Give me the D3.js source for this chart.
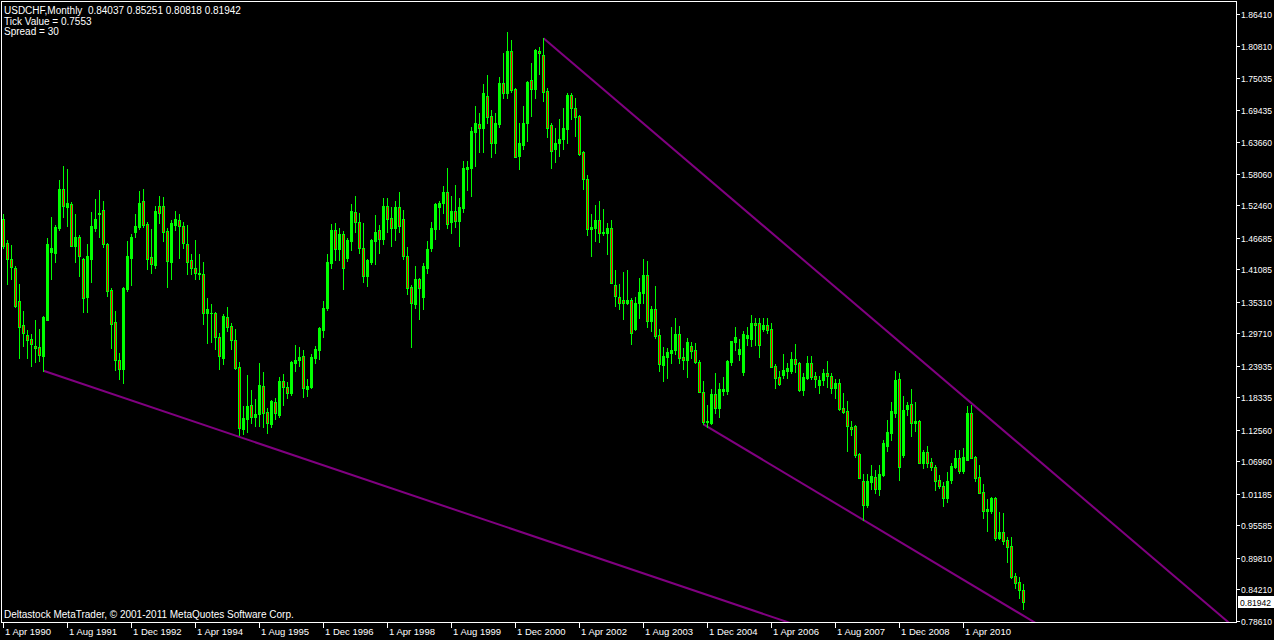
<!DOCTYPE html>
<html><head><meta charset="utf-8">
<script src="https://cdn.jsdelivr.net/npm/d3@7/dist/d3.min.js"></script>
<style>
html,body{margin:0;padding:0;background:#000;}
svg{display:block;}
text{font-family:"Liberation Sans",Arial,sans-serif;fill:#fff;white-space:pre;}
</style></head><body>
<svg id="chart" width="1274" height="640"></svg>
<script>
// ---- DATA (USDCHF monthly, Apr 1990 .. Jul 2011) ----
const startMonth = "1990-04";
const open = [1.4995,1.4569,1.4284,1.4125,1.3549,1.3118,1.2940,1.2864,1.2745,1.2721,1.2572,1.3206,1.4419,1.4402,1.4840,1.5528,1.5218,1.5261,1.4521,1.4675,1.4290,1.3615,1.4295,1.4840,1.5089,1.5160,1.4556,1.3739,1.3165,1.2496,1.2336,1.3762,1.4313,1.4775,1.4863,1.5320,1.4911,1.4331,1.4183,1.5236,1.5231,1.4787,1.4242,1.4894,1.4983,1.4876,1.4556,1.4272,1.4125,1.4036,1.4024,1.3325,1.3325,1.3325,1.2899,1.2537,1.3254,1.3100,1.2851,1.2366,1.1265,1.1443,1.1697,1.1489,1.1532,1.2034,1.1567,1.1354,1.1745,1.1519,1.2123,1.2011,1.1915,1.2437,1.2501,1.2567,1.1986,1.2011,1.2537,1.2674,1.3029,1.3425,1.4224,1.4805,1.4462,1.4734,1.4308,1.4615,1.5119,1.4942,1.4480,1.3993,1.4242,1.4615,1.4805,1.4645,1.5231,1.5013,1.4846,1.5208,1.4999,1.4343,1.3787,1.3486,1.3935,1.3610,1.4135,1.4491,1.4817,1.5218,1.5279,1.5474,1.4952,1.5148,1.4965,1.5201,1.5888,1.5911,1.6551,1.6687,1.6622,1.7185,1.6829,1.6345,1.6687,1.7410,1.7243,1.7984,1.7304,1.6119,1.6314,1.6700,1.7469,1.7309,1.7984,1.7913,1.7274,1.6670,1.6243,1.6345,1.6421,1.6599,1.7202,1.6966,1.6829,1.6195,1.5711,1.4817,1.4846,1.4983,1.4757,1.4757,1.4835,1.3828,1.3620,1.3562,1.3514,1.3562,1.3047,1.3503,1.3691,1.4005,1.3189,1.3402,1.2940,1.2407,1.2554,1.2625,1.2665,1.2958,1.2544,1.2496,1.2745,1.2674,1.2455,1.1922,1.1401,1.1372,1.1887,1.1638,1.1951,1.1951,1.2466,1.2821,1.2597,1.2288,1.2882,1.2869,1.3146,1.3146,1.3047,1.3118,1.3041,1.2390,1.2189,1.2230,1.2301,1.2301,1.2509,1.2437,1.1963,1.2182,1.2437,1.2212,1.2052,1.2141,1.2260,1.2212,1.2004,1.2082,1.1638,1.1591,1.1311,1.1329,1.0821,1.0347,0.9921,1.0335,1.0423,1.0205,1.0454,1.0974,1.1205,1.1550,1.2159,1.0809,1.1626,1.1715,1.1382,1.1413,1.0672,1.0868,1.0690,1.0590,1.0365,1.0258,1.0050,1.0365,1.0601,1.0750,1.0525,1.0720,1.1550,1.0768,1.0413,1.0147,0.9820,0.9820,1.0040,0.9340,0.9436,0.9299,0.9193,0.8660,0.8548,0.84037];
const high = [1.5089,1.4627,1.4538,1.4165,1.3846,1.3366,1.3029,1.2958,1.3206,1.3047,1.3283,1.4663,1.5036,1.4894,1.5693,1.5941,1.5883,1.5307,1.5089,1.4716,1.4313,1.4556,1.5130,1.5355,1.5515,1.5320,1.4569,1.3780,1.3366,1.2615,1.3798,1.4614,1.4734,1.5089,1.5497,1.5533,1.4952,1.4823,1.5231,1.5409,1.5396,1.4835,1.4983,1.5142,1.5089,1.4942,1.4894,1.4379,1.4627,1.4373,1.4231,1.3597,1.3489,1.3354,1.2982,1.3308,1.3437,1.3148,1.3047,1.2455,1.1678,1.2230,1.1963,1.1804,1.2443,1.2283,1.1649,1.1786,1.1816,1.2189,1.2248,1.2100,1.2484,1.2769,1.2727,1.2674,1.2158,1.2597,1.2745,1.3079,1.3544,1.4379,1.4911,1.4934,1.4840,1.4792,1.4658,1.5267,1.5409,1.5112,1.4934,1.4290,1.4645,1.5071,1.4894,1.5379,1.5379,1.5219,1.5320,1.5480,1.5160,1.4498,1.3829,1.4165,1.3958,1.4224,1.4610,1.4942,1.5290,1.5320,1.5586,1.5911,1.5409,1.5604,1.5368,1.6030,1.6030,1.6629,1.7007,1.6877,1.7398,1.7558,1.6936,1.6877,1.7517,1.7954,1.8316,1.8179,1.7321,1.6711,1.7007,1.7457,1.7765,1.8019,1.8060,1.8209,1.7322,1.6711,1.6611,1.6776,1.6966,1.7243,1.7243,1.7144,1.6847,1.6213,1.5782,1.5089,1.5249,1.5320,1.5178,1.4934,1.4983,1.4094,1.3840,1.4063,1.4094,1.3603,1.3610,1.3947,1.4290,1.4254,1.3455,1.3810,1.3047,1.2732,1.2714,1.3087,1.3247,1.3100,1.2714,1.2881,1.2821,1.2803,1.2496,1.2123,1.1697,1.1976,1.2260,1.2082,1.2200,1.2496,1.2833,1.3076,1.2864,1.3011,1.3076,1.3295,1.3237,1.3237,1.3237,1.3237,1.3147,1.2420,1.2306,1.2603,1.2448,1.2633,1.2781,1.2466,1.2270,1.2572,1.2572,1.2278,1.2212,1.2336,1.2478,1.2260,1.2159,1.2159,1.1915,1.1768,1.1418,1.1342,1.0850,1.0472,1.0472,1.0631,1.0542,1.0631,1.1075,1.1431,1.1745,1.2301,1.2270,1.1862,1.1756,1.1981,1.1745,1.1431,1.0898,1.0969,1.0750,1.0631,1.0454,1.0334,1.0501,1.0661,1.0898,1.0898,1.0939,1.1678,1.1697,1.0791,1.0631,1.0288,1.0028,1.0069,1.0069,0.9791,0.9773,0.9347,0.9347,0.8719,0.8648,0.85251];
const low = [1.4485,1.3846,1.3935,1.3443,1.2537,1.2750,1.2537,1.2395,1.2466,1.2478,1.2306,1.3200,1.3935,1.4242,1.4805,1.5041,1.4881,1.4521,1.4242,1.3993,1.3354,1.3354,1.3887,1.4792,1.4686,1.4508,1.3633,1.2714,1.2318,1.2159,1.2093,1.3727,1.3828,1.4675,1.4817,1.4863,1.4112,1.4047,1.4125,1.4934,1.4615,1.3798,1.3935,1.4805,1.4313,1.4491,1.4024,1.4024,1.3935,1.3935,1.3135,1.2802,1.2809,1.2686,1.2336,1.2420,1.3017,1.2686,1.2336,1.1163,1.1177,1.1222,1.1371,1.1329,1.1319,1.1307,1.1205,1.1301,1.1453,1.1479,1.1697,1.1826,1.1875,1.2306,1.2394,1.1844,1.1862,1.1994,1.2449,1.2514,1.2903,1.3385,1.4125,1.4272,1.4272,1.3757,1.4254,1.4450,1.4775,1.4402,1.3887,1.3816,1.4201,1.4201,1.4402,1.4556,1.4764,1.4526,1.4627,1.4764,1.4284,1.3667,1.2733,1.3424,1.3220,1.3397,1.4036,1.4437,1.4645,1.4823,1.5112,1.4846,1.4757,1.4864,1.4526,1.5130,1.5515,1.5409,1.5947,1.6195,1.6195,1.6700,1.6106,1.6178,1.6640,1.7154,1.7154,1.7261,1.6096,1.5888,1.6243,1.6391,1.6835,1.7154,1.7575,1.7096,1.6451,1.5912,1.6015,1.6119,1.6243,1.6354,1.6776,1.6480,1.6137,1.5533,1.4716,1.4348,1.4615,1.4597,1.4716,1.4379,1.3857,1.3460,1.3402,1.3224,1.3485,1.2775,1.3029,1.3250,1.3503,1.3087,1.3011,1.2881,1.2306,1.2129,1.2182,1.2437,1.2597,1.2437,1.2336,1.2200,1.2537,1.2437,1.1922,1.1354,1.1311,1.1354,1.1549,1.1478,1.1874,1.1892,1.2407,1.2674,1.2496,1.2230,1.2763,1.2750,1.2762,1.2555,1.3017,1.2970,1.2378,1.2004,1.2052,1.2182,1.2182,1.2260,1.2278,1.1945,1.1874,1.2159,1.2159,1.2022,1.1905,1.2052,1.2022,1.1915,1.1827,1.1608,1.1549,1.0880,1.1164,1.0779,1.0405,0.9654,0.9891,1.0205,1.0129,1.0098,1.0436,1.0885,1.1075,1.1478,1.0365,1.0779,1.1519,1.1146,1.1235,1.0661,1.0583,1.0601,1.0542,1.0187,1.0228,0.9909,0.9969,1.0317,1.0573,1.0484,1.0484,1.0720,1.0750,1.0347,1.0129,0.9695,0.9464,0.9773,0.9299,0.9317,0.9223,0.8914,0.8630,0.8442,0.8275,0.80818];
const close = [1.4521,1.4284,1.4142,1.3455,1.3087,1.2970,1.2851,1.2775,1.2714,1.2585,1.3265,1.4556,1.4480,1.4863,1.5528,1.5236,1.5279,1.4526,1.4675,1.4348,1.3602,1.4343,1.4876,1.4995,1.5112,1.4556,1.3727,1.3135,1.2496,1.2336,1.3780,1.4343,1.4675,1.4876,1.5290,1.4894,1.4290,1.4201,1.5142,1.5112,1.4775,1.4260,1.4934,1.4995,1.4881,1.4569,1.4242,1.4135,1.4036,1.4024,1.3336,1.3397,1.3337,1.2899,1.2572,1.3278,1.3087,1.2851,1.2359,1.1283,1.1460,1.1679,1.1489,1.1537,1.2056,1.1549,1.1372,1.1768,1.1549,1.2123,1.2011,1.1905,1.2466,1.2496,1.2549,1.1994,1.2034,1.2544,1.2686,1.3058,1.3414,1.4231,1.4805,1.4467,1.4734,1.4135,1.4627,1.5142,1.4942,1.4491,1.3993,1.4272,1.4627,1.4764,1.4645,1.5231,1.5000,1.4846,1.5208,1.4881,1.4348,1.3780,1.3514,1.3935,1.3769,1.4165,1.4467,1.4835,1.5267,1.5290,1.5474,1.4906,1.5148,1.4965,1.5208,1.5911,1.5929,1.6563,1.6700,1.6622,1.7233,1.6817,1.6345,1.6700,1.7410,1.7243,1.7984,1.7291,1.6106,1.6345,1.6700,1.7439,1.7309,1.8002,1.7943,1.7261,1.6622,1.6213,1.6345,1.6421,1.6622,1.7202,1.6966,1.6817,1.6155,1.5711,1.4817,1.4863,1.4983,1.4757,1.4769,1.4835,1.3869,1.3638,1.3514,1.3514,1.3562,1.2981,1.3503,1.3699,1.4005,1.3194,1.3402,1.2922,1.2419,1.2567,1.2644,1.2674,1.2958,1.2537,1.2496,1.2821,1.2661,1.2466,1.1933,1.1401,1.1413,1.1887,1.1638,1.1976,1.1981,1.2478,1.2834,1.2899,1.2692,1.2958,1.2940,1.3146,1.3118,1.2762,1.3118,1.3029,1.2378,1.2182,1.2070,1.2319,1.2349,1.2509,1.2425,1.1963,1.2189,1.2437,1.2200,1.2154,1.2141,1.2260,1.2212,1.2004,1.2082,1.1626,1.1578,1.1329,1.1265,1.0809,1.0405,0.9921,1.0347,1.0436,1.0205,1.0472,1.1017,1.1212,1.1590,1.2141,1.0601,1.1608,1.1697,1.1382,1.1413,1.0672,1.0868,1.0672,1.0590,1.0347,1.0264,1.0050,1.0347,1.0614,1.0750,1.0525,1.0768,1.1550,1.0761,1.0405,1.0140,0.9820,0.9850,1.0040,0.9340,0.9436,0.9287,0.9180,0.8648,0.8541,0.8413,0.81942];

const priceTicks = ["1.86410","1.80810","1.75035","1.69435","1.63660","1.58060","1.52460","1.46685","1.41085","1.35310","1.29710","1.23935","1.18335","1.12560","1.06960","1.01185","0.95585","0.89810","0.84210","0.78610"];
const dateTickMonths = ["1990-04","1991-08","1992-12","1994-04","1995-08","1996-12","1998-04","1999-08","2000-12","2002-04","2003-08","2004-12","2006-04","2007-08","2008-12","2010-04"];
const dateTickLabels = ["1 Apr 1990","1 Aug 1991","1 Dec 1992","1 Apr 1994","1 Aug 1995","1 Dec 1996","1 Apr 1998","1 Aug 1999","1 Dec 2000","1 Apr 2002","1 Aug 2003","1 Dec 2004","1 Apr 2006","1 Aug 2007","1 Dec 2008","1 Apr 2010"];
// trend lines: two anchor points each [month, price], drawn as rays to the right
const trendLines = [
  [["1991-02",1.2306],["1995-04",1.1106]],
  [["2001-07",1.8209],["2010-05",1.1789]],
  [["2004-11",1.1354],["2008-03",0.9654]]
];
const headerLines = ["USDCHF,Monthly  0.84037 0.85251 0.80818 0.81942","Tick Value = 0.7553","Spread = 30"];
const footerText = "Deltastock MetaTrader, \u00a9 2001-2011 MetaQuotes Software Corp.";
const lastPrice = "0.81942";

// ---- LAYOUT ----
const W = 1274, H = 640;
const plot = {left:1, right:1236, top:1, bottom:622};
const svg = d3.select("#chart");
svg.append("rect").attr("width",W).attr("height",H).attr("fill","#000");

const fmtKey = d3.timeFormat("%Y-%m");
const parseKey = d3.timeParse("%Y-%m");
const months = d3.timeMonth.range(parseKey(startMonth), d3.timeMonth.offset(parseKey(startMonth), open.length)).map(fmtKey);
const idx = new Map(months.map((m,i)=>[m,i]));

const x = d3.scaleLinear().domain([0, months.length-1]).range([3, 3 + 4*(months.length-1)]);
const y = d3.scaleLinear().domain([0.78610, 1.86410]).range([621, 14]);

const candles = months.map((m,i)=>({m, i, o:open[i], h:high[i], l:low[i], c:close[i]}));

svg.append("clipPath").attr("id","plotclip").append("rect")
  .attr("x",plot.left+1).attr("y",plot.top+1).attr("width",plot.right-plot.left-1).attr("height",plot.bottom-plot.top-1);

// trend lines
const tl = svg.append("g").attr("clip-path","url(#plotclip)");
trendLines.forEach(([a,b])=>{
  const i1 = idx.get(a[0]), i2 = idx.get(b[0]);
  const slope = (b[1]-a[1])/(i2-i1);
  const iEnd = i1 + 200;
  tl.append("line")
    .attr("x1", x(i1)+0.5).attr("y1", y(a[1]))
    .attr("x2", x(iEnd)+0.5).attr("y2", y(a[1]+slope*(iEnd-i1)))
    .attr("stroke","#800080").attr("stroke-width",2);
});

const g = svg.append("g").attr("clip-path","url(#plotclip)").attr("shape-rendering","crispEdges");
// wicks
g.selectAll("rect.wick").data(candles).join("rect").attr("class","wick")
  .attr("x", d=>x(d.i)).attr("width",1)
  .attr("y", d=>Math.round(y(d.h))).attr("height", d=>Math.max(1, Math.round(y(d.l))-Math.round(y(d.h))+1))
  .attr("fill","#00ff00");
// bodies
g.selectAll("rect.body").data(candles).join("rect").attr("class","body")
  .attr("x", d=>x(d.i)-1).attr("width",3)
  .attr("y", d=>Math.round(y(Math.max(d.o,d.c))))
  .attr("height", d=>Math.max(1, Math.round(y(Math.min(d.o,d.c)))-Math.round(y(Math.max(d.o,d.c)))+1))
  .attr("fill","#00ff00");
// bearish inner
g.selectAll("rect.bear").data(candles.filter(d=>d.c<d.o && Math.round(y(d.c))-Math.round(y(d.o))>=2)).join("rect").attr("class","bear")
  .attr("x", d=>x(d.i)).attr("width",1)
  .attr("y", d=>Math.round(y(d.o))+1)
  .attr("height", d=>Math.round(y(d.c))-Math.round(y(d.o))-1)
  .attr("fill","#ff0000");

// frame
const frame = svg.append("g").attr("shape-rendering","crispEdges");
frame.append("rect").attr("x",plot.left+0.5).attr("y",plot.top+0.5)
  .attr("width",plot.right-plot.left).attr("height",plot.bottom-plot.top)
  .attr("fill","none").attr("stroke","#fff").attr("stroke-width",1);

// price axis
const pa = svg.append("g");
priceTicks.forEach(t=>{
  const yy = Math.round(y(+t));
  pa.append("line").attr("shape-rendering","crispEdges").attr("x1",plot.right+1).attr("x2",plot.right+4).attr("y1",yy+0.5).attr("y2",yy+0.5).attr("stroke","#fff");
  pa.append("text").attr("x",plot.right+5).attr("y",yy+3.5).attr("font-size","9px")
    .attr("textLength",31).attr("lengthAdjust","spacingAndGlyphs").text(t);
});
// last price box
const ly = Math.round(y(+lastPrice));
pa.append("rect").attr("shape-rendering","crispEdges").attr("x",plot.right+2).attr("y",ly-6).attr("width",W-plot.right-2).attr("height",12).attr("fill","#fff");
pa.append("text").attr("x",plot.right+4).attr("y",ly+3.5).attr("font-size","9px")
  .attr("textLength",31).attr("lengthAdjust","spacingAndGlyphs").style("fill","#000").text(lastPrice);

// date axis
const da = svg.append("g");
dateTickMonths.forEach((m,j)=>{
  const xx = x(idx.get(m));
  da.append("line").attr("shape-rendering","crispEdges").attr("x1",xx+0.5).attr("x2",xx+0.5).attr("y1",plot.bottom+1).attr("y2",plot.bottom+6).attr("stroke","#fff");
  da.append("text").attr("x",xx+2).attr("y",plot.bottom+13).attr("font-size","9.5px").text(dateTickLabels[j]);
});

// header & footer text
headerLines.forEach((t,j)=>{
  svg.append("text").attr("x",4).attr("y",[14,24.5,35][j]).attr("font-size","10px").attr("xml:space","preserve").text(t);
});
svg.append("text").attr("x",4).attr("y",plot.bottom-4).attr("font-size","10px").text(footerText);
</script>
</body></html>
